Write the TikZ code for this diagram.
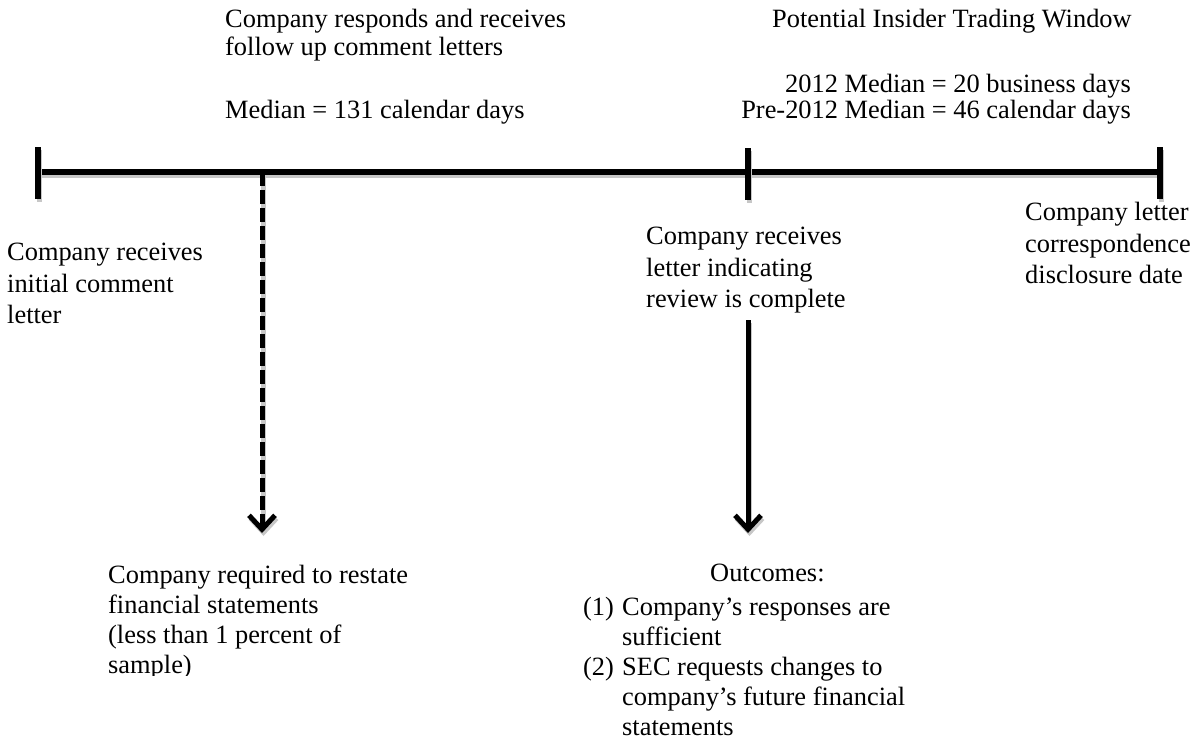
\documentclass[tikz,border=0pt]{standalone}
\usepackage{fontspec}
\setmainfont{Liberation Serif}
\usetikzlibrary{arrows.meta}
\tikzset{
  lbl/.style={inner sep=0pt, anchor=north west, align=left},
  shadowline/.style={preaction={draw=black!22, solid, line width=5.5pt, transform canvas={shift={(1.5pt,-3pt)}}}},
  tline/.style={line width=5.5pt, draw=black, shadowline},
  tip/.style={-{Straight Barb[length=14pt,width=26pt,line width=5pt]}},
  wide/.style={font=\fontsize{26.4}{31.5}\selectfont},
  mid/.style={font=\fontsize{26.4}{30}\selectfont},
  tight/.style={font=\fontsize{26.4}{26}\selectfont},
}
\begin{document}
\begin{tikzpicture}[x=1pt,y=-1pt,font=\fontsize{26.4}{28}\selectfont]
\useasboundingbox (0,0) rectangle (1204,742);
% coordinates on the timeline
\coordinate (t0) at (38,172);
\coordinate (t1) at (262,172);
\coordinate (t2) at (748,172);
\coordinate (t3) at (1160,172);
\coordinate (k0a) at (38,147); \coordinate (k0b) at (38,199);
\coordinate (k2a) at (748,148); \coordinate (k2b) at (748,200);
\coordinate (k3a) at (1160,147); \coordinate (k3b) at (1160,199);
\coordinate (d1) at (262,533);
\coordinate (s0) at (748,320);
\coordinate (s1) at (748,533);
% timeline and ticks
\draw[tline] (t0) -- (t3);
\draw[tline] (k0a) -- (k0b);
\draw[tline] (k2a) -- (k2b);
\draw[tline] (k3a) -- (k3b);
% arrows
\draw[line width=5pt, black!22, tip, transform canvas={shift={(1.5pt,-3pt)}}] (t1) -- (d1);
\draw[line width=5pt, dash pattern=on 14pt off 4pt, tip] (t1) -- (d1);
\draw[line width=5pt, black!22, tip, transform canvas={shift={(1.5pt,-3pt)}}] (s0) -- (s1);
\draw[line width=5pt, tip] (s0) -- (s1);
% top texts
\node[lbl] (resp) at (225,9) {Company responds and receives\\follow up comment letters};
\node[lbl] (med) at (225,100) {Median = 131 calendar days};
\node[lbl] (win) at (772,9) {Potential Insider Trading Window};
\node[inner sep=0pt, anchor=north east, align=right, tight] (wmed) at (1131,74) {2012 Median = 20 business days\\Pre-2012 Median = 46 calendar days};
% below the timeline
\node[lbl, wide] (init) at (7,243) {Company receives\\initial comment\\letter};
\node[lbl, wide] (done) at (646,227) {Company receives\\letter indicating\\review is complete};
\node[lbl, wide] (disc) at (1025,202) {Company letter\\correspondence\\disclosure date};
\begin{scope}
\clip (100,540) rectangle (420,675);
\node[lbl, mid] (rest) at (108,565) {Company required to restate\\financial statements\\(less than 1 percent of\\sample)};
\end{scope}
\node[lbl] (outc) at (710,564) {Outcomes:};
\node[lbl, mid] (list) at (583,594) {\begin{tabular}{@{}p{39pt}@{}l@{}}(1) & Company's responses are\\ & sufficient\\(2) & SEC requests changes to\\ & company's future financial\\ & statements\end{tabular}};
\end{tikzpicture}
\end{document}
